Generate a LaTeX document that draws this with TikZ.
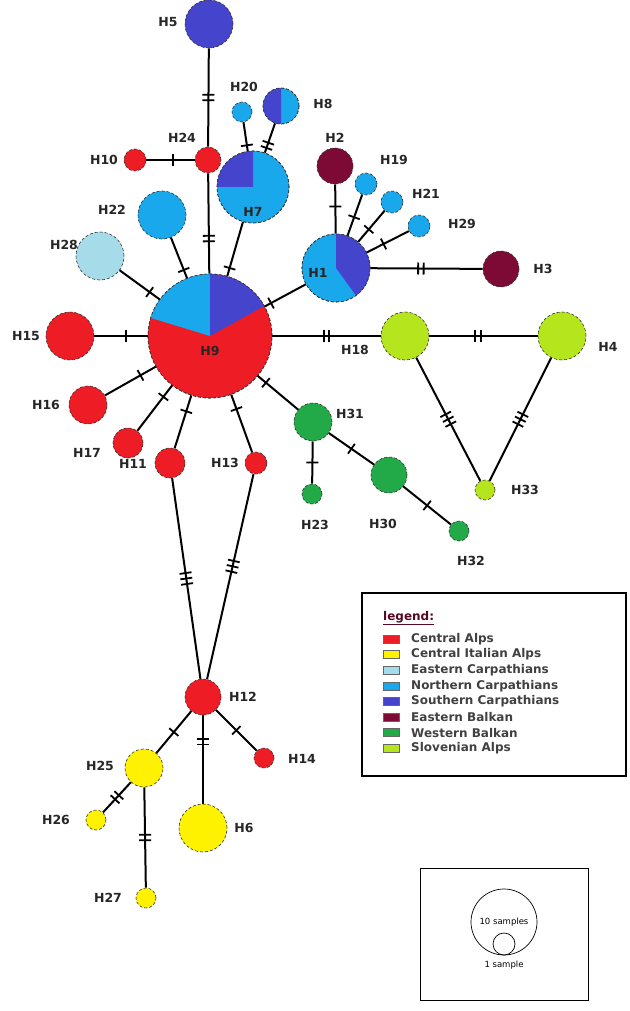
\documentclass[tikz,border=0pt]{standalone}
\usepackage{fontspec}
\setmainfont{DejaVu Sans}
\usetikzlibrary{decorations.markings}
\definecolor{cA}{HTML}{EE1C24}
\definecolor{cI}{HTML}{FFF200}
\definecolor{cE}{HTML}{A6DCEA}
\definecolor{cN}{HTML}{1AA8EC}
\definecolor{cS}{HTML}{4444CC}
\definecolor{cB}{HTML}{7D0A34}
\definecolor{cW}{HTML}{22AA48}
\definecolor{cL}{HTML}{B5E61D}
\tikzset{
 hap/.style 2 args={circle,draw=black!80,densely dashed,line width=0.6pt,fill=#1,minimum size=#2,inner sep=0},
 lab/.style={font=\bfseries\fontsize{12.5}{14}\selectfont,text=black!85},
 edge/.style={line width=2pt},
 tk/.style 2 args={postaction={decorate,decoration={markings,mark=at position #2 with {\foreach \i in {1,...,#1}{\draw[line width=1.8pt,solid] ({(\i-0.5-#1/2)*5.5pt},-6pt)--++(0pt,12pt);}}}}},
 leg/.style={font=\bfseries\fontsize{12}{13}\selectfont,text=black!75,anchor=west,inner sep=0}
}
\begin{document}
\begin{tikzpicture}[x=1pt,y=-1pt]
\useasboundingbox (0,0) rectangle (629,1011);
% nodes
\node[hap={cS}{48pt}] (H5) at (209,24) {};
\node[hap={cA}{26pt}] (H24) at (208,160) {};
\node[hap={cA}{22pt}] (H10) at (135,160) {};
\node[hap={cN}{20pt}] (H20) at (242,112) {};
\node[hap={cN}{36pt}] (H8) at (281,106) {};
\node[hap={cN}{72pt}] (H7) at (253,187) {};
\node[hap={cB}{36pt}] (H2) at (335,166) {};
\node[hap={cN}{22pt}] (H19) at (366,184) {};
\node[hap={cN}{22pt}] (H21) at (392,202) {};
\node[hap={cN}{22pt}] (H29) at (419,226) {};
\node[hap={cN}{68pt}] (H1) at (336,268) {};
\node[hap={cB}{36pt}] (H3) at (501,269) {};
\node[hap={cN}{48pt}] (H22) at (162,215) {};
\node[hap={cE}{48pt}] (H28) at (100,256) {};
\node[hap={cA}{124pt}] (H9) at (210,336) {};
\node[hap={cA}{48pt}] (H15) at (70,336) {};
\node[hap={cA}{38pt}] (H16) at (88,405) {};
\node[hap={cA}{30pt}] (H17) at (128,443) {};
\node[hap={cA}{30pt}] (H11) at (170,463) {};
\node[hap={cA}{22pt}] (H13) at (256,463) {};
\node[hap={cL}{48pt}] (H18) at (405,336) {};
\node[hap={cL}{48pt}] (H4) at (562,336) {};
\node[hap={cL}{20pt}] (H33) at (485,490) {};
\node[hap={cW}{38pt}] (H31) at (313,422) {};
\node[hap={cW}{20pt}] (H23) at (312,494) {};
\node[hap={cW}{36pt}] (H30) at (389,475) {};
\node[hap={cW}{20pt}] (H32) at (459,531) {};
\node[hap={cA}{36pt}] (H12) at (203,697) {};
\node[hap={cA}{20pt}] (H14) at (264,758) {};
\node[hap={cI}{38pt}] (H25) at (144,768) {};
\node[hap={cI}{20pt}] (H26) at (96,820) {};
\node[hap={cI}{48pt}] (H6) at (203,828) {};
\node[hap={cI}{20pt}] (H27) at (146,898) {};
% pies
\fill[cN] (H9.center) -- ++(90:62pt) arc[start angle=90,end angle=163,radius=62pt] -- cycle;
\fill[cS] (H9.center) -- ++(29:62pt) arc[start angle=29,end angle=90,radius=62pt] -- cycle;
\fill[cS] (H7.center) -- ++(90:36pt) arc[start angle=90,end angle=180,radius=36pt] -- cycle;
\fill[cS] (H8.center) -- ++(90:18pt) arc[start angle=90,end angle=270,radius=18pt] -- cycle;
\fill[cS] (H1.center) -- ++(-54:34pt) arc[start angle=-54,end angle=90,radius=34pt] -- cycle;
\foreach \n/\r in {H9/62,H7/36,H8/18,H1/34}{\draw[black!80,densely dashed,line width=0.6pt] (\n.center) circle[radius=\r pt];}
% edges
\begin{scope}[edge]
\draw[tk={2}{0.5}] (H5) -- (H24);
\draw[tk={1}{0.45}] (H24) -- (H10);
\draw[tk={2}{0.65}] (H24) -- (H9);
\draw[tk={1}{0.8}] (H20) -- (H7);
\draw[tk={2}{0.75}] (H8) -- (H7);
\draw[tk={1}{0.85}] (H7) -- (H9);
\draw[tk={1}{0.8}] (H22) -- (H9);
\draw[tk={1}{0.75}] (H28) -- (H9);
\draw[tk={1}{0.85}] (H1) -- (H9);
\draw[tk={1}{0.45}] (H2) -- (H1);
\draw[tk={1}{0.55}] (H19) -- (H1);
\draw[tk={1}{0.6}] (H21) -- (H1);
\draw[tk={1}{0.6}] (H29) -- (H1);
\draw[tk={2}{0.45}] (H1) -- (H3);
\draw[tk={1}{0.6}] (H15) -- (H9);
\draw[tk={1}{0.7}] (H16) -- (H9);
\draw[tk={1}{0.75}] (H17) -- (H9);
\draw[tk={1}{0.7}] (H11) -- (H9);
\draw[tk={1}{0.75}] (H13) -- (H9);
\draw[tk={1}{0.8}] (H31) -- (H9);
\draw[tk={2}{0.5}] (H9) -- (H18);
\draw[tk={2}{0.45}] (H18) -- (H4);
\draw[tk={3}{0.5}] (H18) -- (H33);
\draw[tk={3}{0.5}] (H4) -- (H33);
\draw[tk={1}{0.5}] (H31) -- (H23);
\draw[tk={1}{0.5}] (H31) -- (H30);
\draw[tk={1}{0.5}] (H30) -- (H32);
\draw[tk={3}{0.5}] (H11) -- (H12);
\draw[tk={3}{0.45}] (H13) -- (H12);
\draw[tk={1}{0.5}] (H12) -- (H25);
\draw[tk={2}{0.3}] (H12) -- (H6);
\draw[tk={1}{0.5}] (H12) -- (H14);
\draw[tk={2}{0.5}] (H25) -- (H26);
\draw[tk={2}{0.5}] (H25) -- (H27);
\end{scope}
% labels
\foreach \t/\x/\y in {H5/168/22,H20/244/87,H8/323/104,H24/182/138,H10/104/160,H2/335/138,H19/394/160,H21/426/194,H29/462/224,H7/253/212,H1/318/273,H22/112/210,H28/64/245,H9/210/351,H15/26/336,H18/355/350,H4/608/347,H3/543/269,H16/46/405,H17/87/453,H11/133/464,H13/225/463,H31/350/414,H23/315/525,H30/383/524,H32/471/561,H33/525/490,H12/243/697,H14/302/759,H25/100/766,H26/56/820,H6/244/828,H27/108/898}{\node[lab] (l\t) at (\x,\y) {\t};}
% legend
\draw[line width=2.5pt] (362,593) rectangle (626,776);
\node[leg,text=cB!70!black] (lt) at (383,618) {\underline{legend:}};
\foreach \c/\t [count=\k] in {cA/Central Alps,cI/Central Italian Alps,cE/Eastern Carpathians,cN/Northern Carpathians,cS/Southern Carpathians,cB/Eastern Balkan,cW/Western Balkan,cL/Slovenian Alps}{
 \draw[fill=\c,draw=black!60,line width=0.6pt] (383,{635+15.6*(\k-1)}) rectangle (399,{643+15.6*(\k-1)});
 \node[leg] (lg\k) at (411,{639+15.6*(\k-1)}) {\t};
}
% scale
\draw[line width=0.8pt] (420,868) rectangle (588,1000);
\node[circle,draw,line width=0.7pt,minimum size=66pt,inner sep=0] (big) at (504,922) {};
\node[circle,draw,line width=0.7pt,minimum size=22pt,inner sep=0] (small) at (504,944) {};
\node[font=\fontsize{8.5}{9}\selectfont] (t10) at (504,922) {10 samples};
\node[font=\fontsize{8.5}{9}\selectfont] (t1) at (504,965) {1 sample};
\end{tikzpicture}
\end{document}
